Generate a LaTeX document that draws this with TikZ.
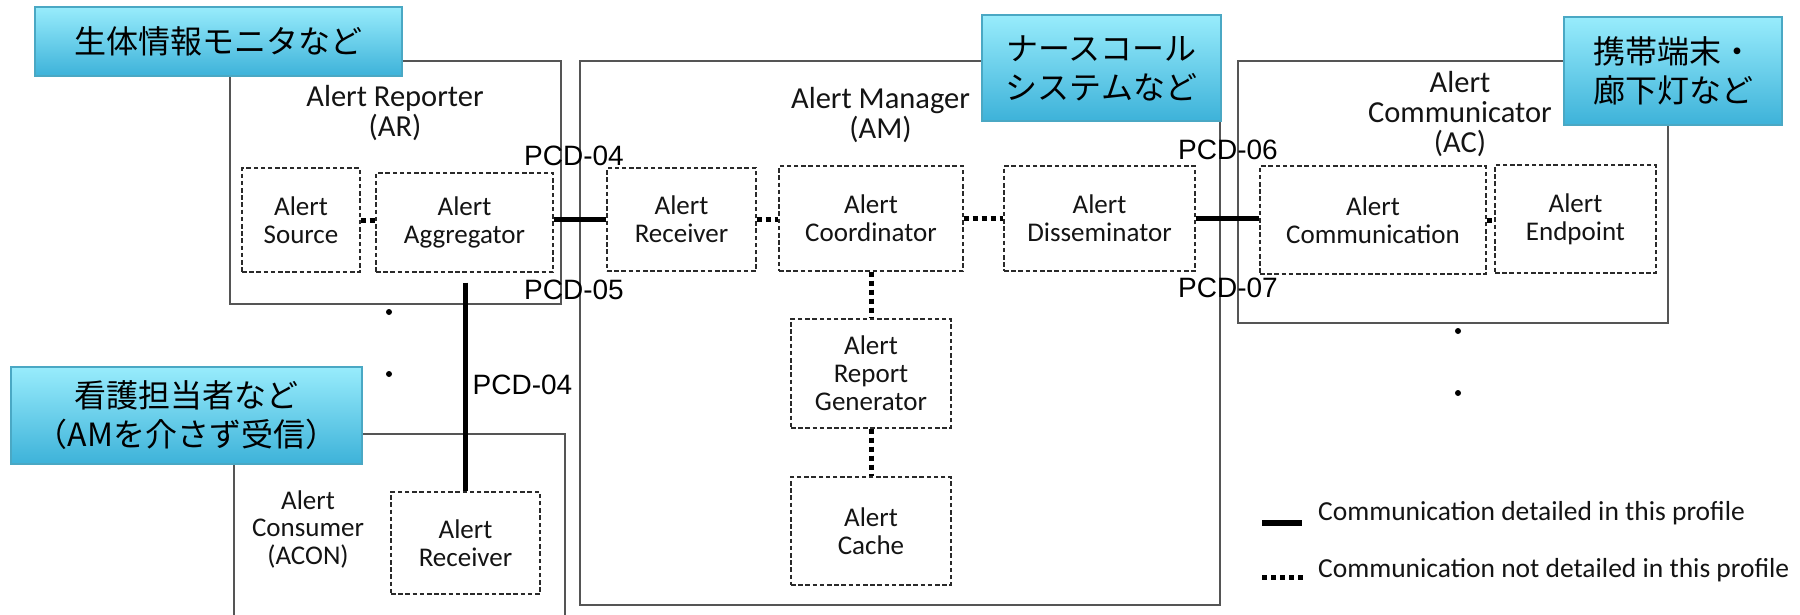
\documentclass[tikz,border=0pt]{standalone}
\usepackage{fontspec}
\setmainfont{Carlito}
\newfontfamily\arialf{Liberation Sans}
\newfontfamily\jpf{Noto Sans CJK JP}
\definecolor{boxgray}{HTML}{555555}
\definecolor{dashgray}{HTML}{2A2A2A}
\definecolor{bluetop}{HTML}{98ECFC}
\definecolor{bluebot}{HTML}{3DB2D9}
\definecolor{blueedge}{HTML}{4AA8C4}
\definecolor{txt}{HTML}{141414}
\begin{document}
\begin{tikzpicture}[x=1pt,y=-1pt,
 outer/.style={draw=boxgray, line width=2pt, inner sep=0pt},
 inner/.style={draw=dashgray, line width=1.3pt, dash pattern=on 4.5pt off 2.7pt, align=center, text=txt, font=\fontsize{27}{28}\selectfont, inner sep=0pt},
 title/.style={align=center, text=txt, font=\fontsize{30.5}{30}\selectfont, inner sep=0pt},
 tag/.style={draw=blueedge, line width=1.5pt, top color=bluetop, bottom color=bluebot, align=center, font=\jpf\fontsize{32}{39}\selectfont, inner sep=0pt},
 pcd/.style={font=\arialf\fontsize{28}{28}\selectfont, inner sep=0pt, anchor=west},
 solidc/.style={line width=5.5pt},
 dotc/.style={line width=5pt, dash pattern=on 5pt off 4pt},
 dotn/.style={circle, fill=black, inner sep=0pt, minimum size=6pt},
 legtext/.style={font=\fontsize{27.5}{27.5}\selectfont, text=txt, anchor=west, inner sep=0pt},
]
\fill[white] (0,0) rectangle (1800,614);
\useasboundingbox (0,0) rectangle (1800,614);

% outer boxes
\node[outer, minimum width=331pt, minimum height=243pt] (ar) at (395.5,182.5) {};
\node[outer, minimum width=640pt, minimum height=544pt] (am) at (900,333) {};
\node[outer, minimum width=430pt, minimum height=262pt] (ac) at (1453,192) {};
\node[outer, minimum width=331pt, minimum height=206pt] (acon) at (399.5,537) {};

% titles
\node[title] (artitle) at (395,113) {Alert Reporter\\(AR)};
\node[title] (amtitle) at (880.5,115) {Alert Manager\\(AM)};
\node[title] (actitle) at (1460,114) {Alert\\Communicator\\(AC)};
\node[title, font=\fontsize{27}{27.5}\selectfont] (acontitle) at (308,529) {Alert\\Consumer\\(ACON)};

% inner boxes
\node[inner, minimum width=118pt, minimum height=104pt] (src) at (301,220) {Alert\\Source};
\node[inner, minimum width=177pt, minimum height=99pt] (agg) at (464.5,222.5) {Alert\\Aggregator};
\node[inner, minimum width=149pt, minimum height=103pt] (rcv) at (681.5,219.5) {Alert\\Receiver};
\node[inner, minimum width=184pt, minimum height=105pt] (coord) at (871,218.5) {Alert\\Coordinator};
\node[inner, minimum width=191pt, minimum height=105pt] (diss) at (1099.5,218.5) {Alert\\Disseminator};
\node[inner, minimum width=160pt, minimum height=109pt] (rg) at (871,373.5) {Alert\\Report\\Generator};
\node[inner, minimum width=160pt, minimum height=108pt] (cache) at (871,531) {Alert\\Cache};
\node[inner, minimum width=226pt, minimum height=108pt] (comm) at (1373,220) {Alert\\Communication};
\node[inner, minimum width=161pt, minimum height=108pt] (endp) at (1575.5,219) {Alert\\Endpoint};
\node[inner, minimum width=149pt, minimum height=102pt] (acrcv) at (465.5,543) {Alert\\Receiver};

% connectors
\draw[dotc] (src.east) -- (src.east -| agg.west);
\draw[solidc] (agg.east |- rcv.west) -- (rcv.west);
\draw[dotc] (rcv.east) -- (rcv.east -| coord.west);
\draw[dotc] (coord.east |- diss.west) -- (diss.west);
\draw[solidc] (diss.east) -- (diss.east -| comm.west);
\draw[dotc] (comm.east) -- (comm.east -| endp.west);
\draw[dotc] (coord.south) -- (rg.north);
\draw[dotc] (rg.south) -- (cache.north);
\draw[solidc] ([yshift=-10pt]acrcv.north |- agg.south) -- (acrcv.north);

% PCD labels
\node[pcd] (pcd04a) at (524,156) {PCD-04};
\node[pcd] (pcd05) at (524,290) {PCD-05};
\node[pcd] (pcd06) at (1178,150) {PCD-06};
\node[pcd] (pcd07) at (1178,288) {PCD-07};
\node[pcd] (pcd04b) at (472.5,385) {PCD-04};

% ellipsis dots
\node[dotn] (d1) at (389,312) {};
\node[dotn] (d2) at (389,374) {};
\node[dotn] (d3) at (1458,331) {};
\node[dotn] (d4) at (1458,393) {};

% tags
\node[tag, minimum width=367pt, minimum height=69pt] (t1) at (218.5,41.5) {生体情報モニタなど};
\node[tag, minimum width=239pt, minimum height=106pt] (t2) at (1101.5,68) {ナースコール\\システムなど};
\node[tag, minimum width=218pt, minimum height=108pt] (t3) at (1673,71) {携帯端末・\\廊下灯など};
\node[tag, minimum width=351pt, minimum height=97pt] (t4) at (186.5,415.5) {看護担当者など\\（AMを介さず受信）};

% legend
\coordinate (l1a) at (1262,523);
\coordinate (l1b) at (1302,523);
\coordinate (l2a) at (1262,577);
\coordinate (l2b) at (1304,577);
\draw[solidc] (l1a) -- (l1b);
\draw[dotc] (l2a) -- (l2b);
\node[legtext] (leg1) at (1318,513) {Communication detailed in this profile};
\node[legtext] (leg2) at (1318,570) {Communication not detailed in this profile};
\end{tikzpicture}
\end{document}
